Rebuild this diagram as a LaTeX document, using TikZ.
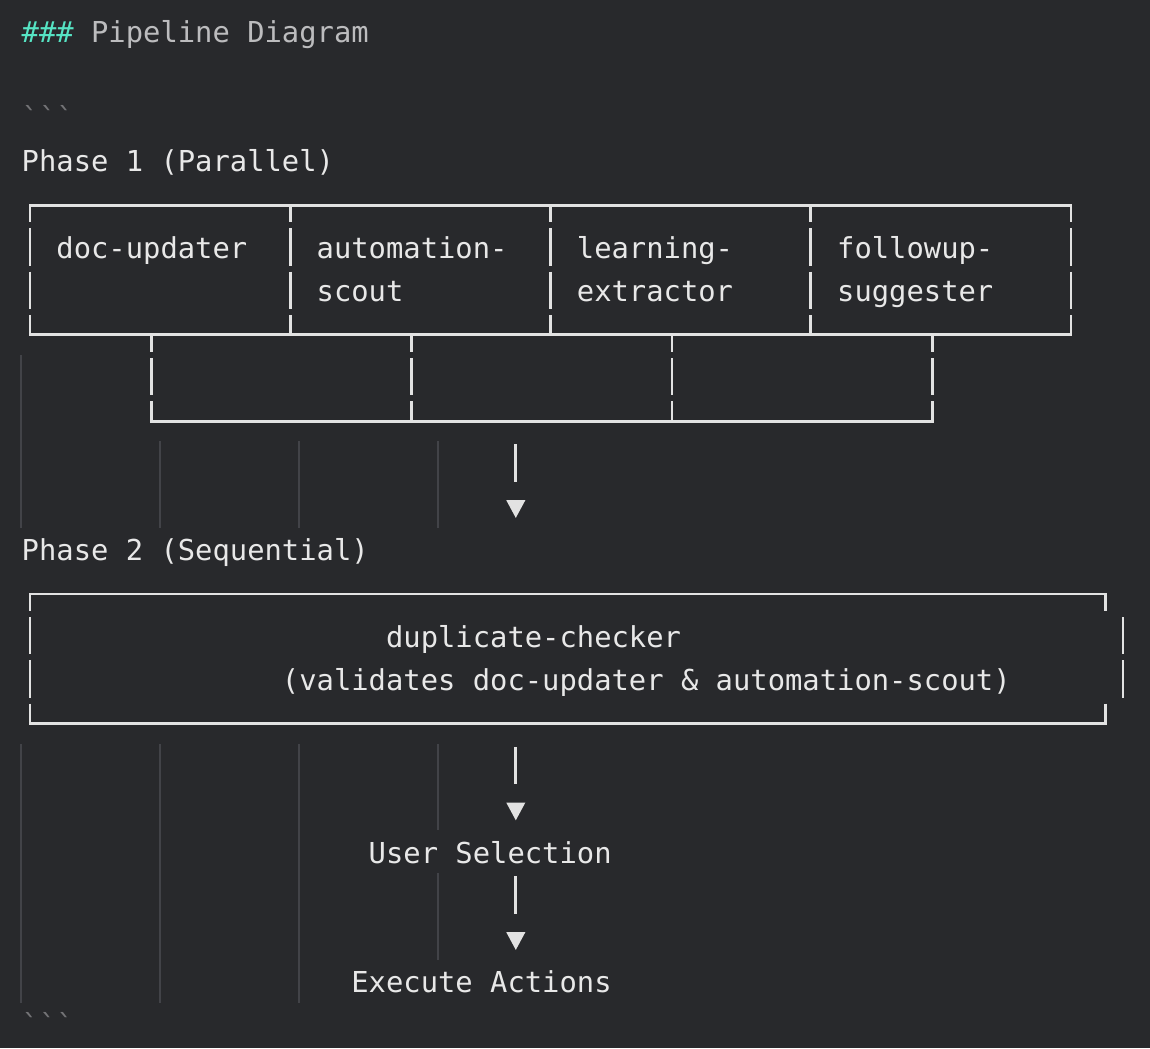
\documentclass[tikz,border=0pt]{standalone}
\usepackage{fontspec}
\setmonofont{DejaVu Sans Mono}
\definecolor{bgc}{RGB}{40,41,44}
\definecolor{txtc}{RGB}{232,232,232}
\definecolor{linec}{RGB}{226,226,226}
\definecolor{headc}{RGB}{188,188,190}
\definecolor{hashc}{RGB}{86,228,196}
\definecolor{tickc}{RGB}{115,115,118}
\definecolor{guidec}{RGB}{66,67,72}
\tikzset{every node/.style={inner sep=0pt,anchor=base west,text=txtc,font=\ttfamily\fontsize{14.41pt}{21.6pt}\selectfont}}
\tikzset{ln/.style={draw=linec,line width=1.4pt}}
\tikzset{hln/.style={ln,line cap=rect}}
\tikzset{guide/.style={draw=guidec,line width=1pt}}
\tikzset{tip/.style={fill=linec}}

\begin{document}
\begin{tikzpicture}[x=8.675pt,y=-21.6pt]
\fill[bgc] (-1.729,-0.718) rectangle (64.553,23.542);
\useasboundingbox (-1.729,-0.718) rectangle (64.553,23.542);

% indent guides
\draw[guide] (-0.5,7.5) -- (-0.5,11.5);
\draw[guide] (-0.5,16.5) -- (-0.5,22.5);
\foreach \c in {7.5,15.5,23.5}
  \draw[guide] (\c,9.5) -- (\c,11.5);
\foreach \c in {7.5,15.5}
  \draw[guide] (\c,16.5) -- (\c,22.5);
\draw[guide] (23.5,16.5) -- (23.5,18.5);
\draw[guide] (23.5,19.5) -- (23.5,21.5);

\node (head) at (-0.5,0.26) {\textcolor{hashc}{\#\#\#} \textcolor{headc}{Pipeline Diagram}};
\node[text=tickc] (open) at (-0.5,2.26) {```};
\node (ph1) at (-0.5,3.26) {Phase 1 (Parallel)};
\node (doc) at (1.5,5.26) {doc-updater};
\node (auto) at (16.5,5.26) {automation-};
\node (autob) at (16.5,6.26) {scout};
\node (learn) at (31.5,5.26) {learning-};
\node (learnb) at (31.5,6.26) {extractor};
\node (follow) at (46.5,5.26) {followup-};
\node (followb) at (46.5,6.26) {suggester};
\node (ph2) at (-0.5,12.26) {Phase 2 (Sequential)};
\node (dup) at (20.5,14.26) {duplicate-checker};
\node (dupb) at (14.5,15.26) {(validates doc-updater \& automation-scout)};
\node (user) at (19.5,19.26) {User Selection};
\node (exec) at (18.5,22.26) {Execute Actions};
\node[text=tickc] (close) at (-0.5,23.26) {```};

% phase 1 box
\draw[hln] (0,4.03) -- (60,4.03);
\draw[hln] (0,7.03) -- (60,7.03);
\foreach \c in {0,15,30,45,60}{
  \draw[ln] (\c,4.03) -- (\c,4.43);
  \draw[ln] (\c,4.57) -- (\c,5.43);
  \draw[ln] (\c,5.57) -- (\c,6.43);
  \draw[ln] (\c,6.57) -- (\c,7.03);
}
% merge
\foreach \c in {7,22,37,52}{
  \draw[ln] (\c,7.03) -- (\c,7.43);
  \draw[ln] (\c,7.57) -- (\c,8.43);
  \draw[ln] (\c,8.57) -- (\c,9.03);
}
\draw[hln] (7,9.03) -- (52,9.03);

% phase 2 box
\draw[hln] (0,13.03) -- (62,13.03);
\draw[hln] (0,16.03) -- (62,16.03);
\draw[ln] (0,13.03) -- (0,13.43);
\draw[ln] (0,13.57) -- (0,14.43);
\draw[ln] (0,14.57) -- (0,15.43);
\draw[ln] (0,15.57) -- (0,16.03);
\draw[ln] (62,13.03) -- (62,13.43);
\draw[ln] (63,13.57) -- (63,14.43);
\draw[ln] (63,14.57) -- (63,15.43);
\draw[ln] (62,15.57) -- (62,16.03);

% down arrows
\foreach \r in {10,17,20}{
  \coordinate (s\r) at (28,\r-0.43);
  \coordinate (e\r) at (28,\r+0.43);
  \draw[ln] (s\r) -- (e\r);
  \fill[tip] (27.45,\r+0.86) -- (28.55,\r+0.86) -- (28,\r+1.27) -- cycle;
}
\end{tikzpicture}
\end{document}
